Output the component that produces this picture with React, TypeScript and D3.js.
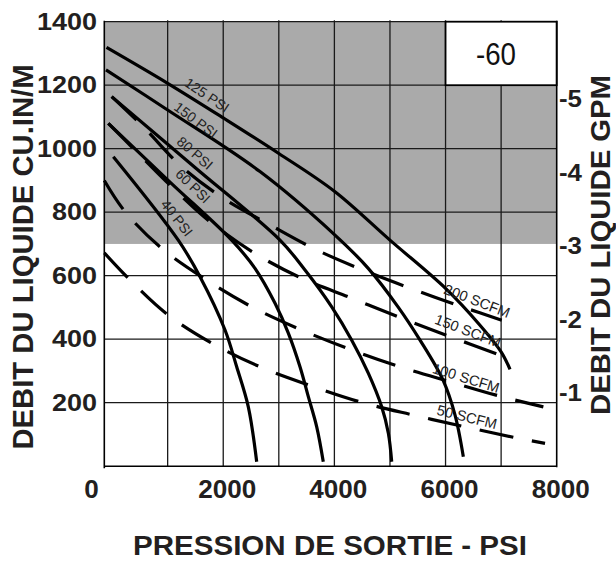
import React from 'react';
import * as d3 from 'd3';

const W = 616;
const H = 562;

// axis ticks
const xTickLabels = [0, 2000, 4000, 6000, 8000];
const xGridValues = [1000, 2000, 3000, 4000, 5000, 6000, 7000];
const yTickLabels = [200, 400, 600, 800, 1000, 1200, 1400];
const yGridValues = [200, 400, 600, 800, 1000, 1200, 1400];
const gpmTicks = [1, 2, 3, 4, 5];
const CUIN_PER_GPM = 231;

// shaded region and box
const shadeFrom = 700;
const boxX = [6000, 8000];
const boxY = [1200, 1400];
const boxLabel = '-60';

// air pressure curves (solid) : [outlet psi, cu.in/min]
const psi125 = [[-100, 1319], [1000, 1206], [2000, 1097], [3000, 985], [4000, 866], [5000, 712], [6000, 560], [6600, 448], [7000, 360], [7160, 305]];
const psi150 = [[-110, 1248], [1000, 1122], [2661, 928], [4011, 728], [4605, 624], [5145, 502], [5541, 397], [5955, 271], [6171, 161], [6320, 30]];
const psi80 = [[-7, 1164], [1492, 941], [3021, 712], [3471, 618], [3952, 502], [4312, 397], [4610, 293], [4851, 187], [4971, 104], [5031, 14]];
const psi60 = [[-68, 1080], [1042, 895], [2152, 712], [2572, 623], [2932, 513], [3171, 419], [3381, 313], [3531, 219], [3682, 124], [3800, 14]];
const psi40 = [[22, 975], [1191, 712], [1582, 597], [2032, 429], [2242, 313], [2451, 187], [2602, 14]];

// air consumption curves (dashed)
const scfm200 = [[-7, 1164], [561, 1069], [1252, 943], [2001, 844], [2841, 760], [3682, 681], [4582, 613], [5451, 555], [6381, 497], [7011, 460]];
const scfm150 = [[-68, 1080], [381, 1001], [1073, 880], [1762, 770], [2572, 670], [3412, 592], [4312, 529], [5211, 466], [6081, 408], [6980, 350]];
const scfm100 = [[-140, 900], [232, 802], [893, 686], [1702, 586], [2512, 502], [3381, 431], [4281, 368], [5181, 313], [6081, 266], [7011, 219], [7760, 187]];
const scfm50 = [[-140, 672], [292, 592], [1011, 476], [1821, 385], [2662, 313], [3531, 256], [4492, 201], [5420, 161], [6350, 124], [7310, 88], [7790, 72]];

const solidSeries = [psi125, psi150, psi80, psi60, psi40];
const dashedSeries = [scfm200, scfm150, scfm100, scfm50];

// curve labels: text, position (px), angle
const curveLabels = [
  { t: '125 PSI', cx: 207, cy: 95, a: 34, s: 14 },
  { t: '150 PSI', cx: 196, cy: 120, a: 37, s: 14 },
  { t: '80 PSI', cx: 195, cy: 153, a: 41, s: 14 },
  { t: '60 PSI', cx: 193, cy: 186, a: 44, s: 14 },
  { t: '40 PSI', cx: 177, cy: 218, a: 52, s: 14 },
  { t: '200 SCFM', cx: 477, cy: 301, a: 21, s: 14.5 },
  { t: '150 SCFM', cx: 468, cy: 331, a: 21, s: 14.5 },
  { t: '100 SCFM', cx: 466, cy: 378, a: 17, s: 14.5 },
  { t: '50 SCFM', cx: 467, cy: 417, a: 14, s: 14.5 },
];

const FONT = '"Liberation Sans", Arial, Helvetica, sans-serif';

export default function App() {
  const x = d3.scaleLinear().domain([-140, 8000]).range([104.3, 556.7]);
  const y = d3.scaleLinear().domain([0, 1400]).range([466.2, 21.7]);
  const line = d3
    .line<number[]>()
    .x((d) => x(d[0]))
    .y((d) => y(d[1]))
    .curve(d3.curveCatmullRom.alpha(0.5));

  const x0 = x.domain()[0];
  const x1 = x.domain()[1];
  const gridColor = '#1a1a1a';

  return (
    <svg
      width={W}
      height={H}
      style={{ position: 'absolute', left: 0, top: 0, background: '#fff' }}
      fontFamily={FONT}
    >
      <rect x={0} y={0} width={W} height={H} fill="#fff" />
      {/* shaded region */}
      <rect
        x={x(x0)}
        y={y(1400)}
        width={x(x1) - x(x0)}
        height={y(shadeFrom) - y(1400)}
        fill="#aaaaaa"
      />
      {/* grid */}
      {xGridValues.map((v) => (
        <line key={'gx' + v} x1={x(v)} x2={x(v)} y1={y(1400) - 1.5} y2={y(0)} stroke={gridColor} strokeWidth={1.3} />
      ))}
      {yGridValues.map((v) => (
        <line key={'gy' + v} x1={x(x0)} x2={x(x1)} y1={y(v)} y2={y(v)} stroke={gridColor} strokeWidth={1.3} />
      ))}
      {/* box */}
      <rect
        x={x(boxX[0])}
        y={y(boxY[1])}
        width={x(boxX[1]) - x(boxX[0])}
        height={y(boxY[0]) - y(boxY[1])}
        fill="#fff"
        stroke="#000"
        strokeWidth={1.8}
      />
      <text x={496} y={65} fontSize={31} textAnchor="middle" textLength={40} lengthAdjust="spacingAndGlyphs" fill="#111">
        {boxLabel}
      </text>
      {/* curves */}
      {solidSeries.map((s, i) => (
        <path key={'s' + i} d={line(s) || ''} fill="none" stroke="#000" strokeWidth={3.2} />
      ))}
      {dashedSeries.map((s, i) => (
        <path key={'d' + i} d={line(s) || ''} fill="none" stroke="#000" strokeWidth={3.2} strokeDasharray="34 19" />
      ))}
      {curveLabels.map((l) => (
        <text
          key={l.t}
          transform={`translate(${l.cx},${l.cy}) rotate(${l.a})`}
          fontSize={l.s}
          textAnchor="middle"
          dominantBaseline="central"
          fill="#222"
        >
          {l.t}
        </text>
      ))}
      {/* axes */}
      <line x1={x(x0)} x2={x(x0)} y1={y(1400) - 1} y2={y(0) + 2} stroke="#000" strokeWidth={1.6} />
      <line x1={x(x1)} x2={x(x1)} y1={y(1400) - 1} y2={y(0) + 1} stroke="#000" strokeWidth={1.6} />
      <line x1={x(x0)} x2={x(x1)} y1={y(0)} y2={y(0)} stroke="#000" strokeWidth={1.6} />
      {/* left tick labels */}
      {yTickLabels.map((v) => (
        <text
          key={'yl' + v}
          x={97}
          y={y(v) + 8}
          fontSize={23}
          fontWeight="bold"
          textAnchor="end"
          textLength={15 * String(v).length}
          lengthAdjust="spacingAndGlyphs"
          fill="#231f20"
        >
          {v}
        </text>
      ))}
      {/* bottom tick labels */}
      {xTickLabels.map((v) => (
        <text
          key={'xl' + v}
          x={v === 0 ? x(x0) - 12.8 : x(v) + 4}
          y={498}
          fontSize={25}
          fontWeight="bold"
          textAnchor="middle"
          textLength={14.5 * String(v).length}
          lengthAdjust="spacingAndGlyphs"
          fill="#231f20"
        >
          {v}
        </text>
      ))}
      {/* right tick labels */}
      {gpmTicks.map((g) => (
        <text
          key={'gl' + g}
          x={559}
          y={y(g * CUIN_PER_GPM) + 8}
          fontSize={24}
          fontWeight="bold"
          textLength={23}
          lengthAdjust="spacingAndGlyphs"
          fill="#231f20"
        >
          {'-' + g}
        </text>
      ))}
      {/* titles */}
      <text
        transform="translate(33.3,257) rotate(-90)"
        fontSize={29}
        fontWeight="bold"
        textAnchor="middle"
        textLength={385}
        lengthAdjust="spacingAndGlyphs"
        fill="#231f20"
      >
        DEBIT DU LIQUIDE CU.IN/M
      </text>
      <text
        transform="translate(610,245) rotate(-90)"
        fontSize={27}
        fontWeight="bold"
        textAnchor="middle"
        textLength={340}
        lengthAdjust="spacingAndGlyphs"
        fill="#231f20"
      >
        DEBIT DU LIQUIDE GPM
      </text>
      <text
        x={330}
        y={555}
        fontSize={27}
        fontWeight="bold"
        textAnchor="middle"
        textLength={394}
        lengthAdjust="spacingAndGlyphs"
        fill="#231f20"
      >
        PRESSION DE SORTIE - PSI
      </text>
    </svg>
  );
}
